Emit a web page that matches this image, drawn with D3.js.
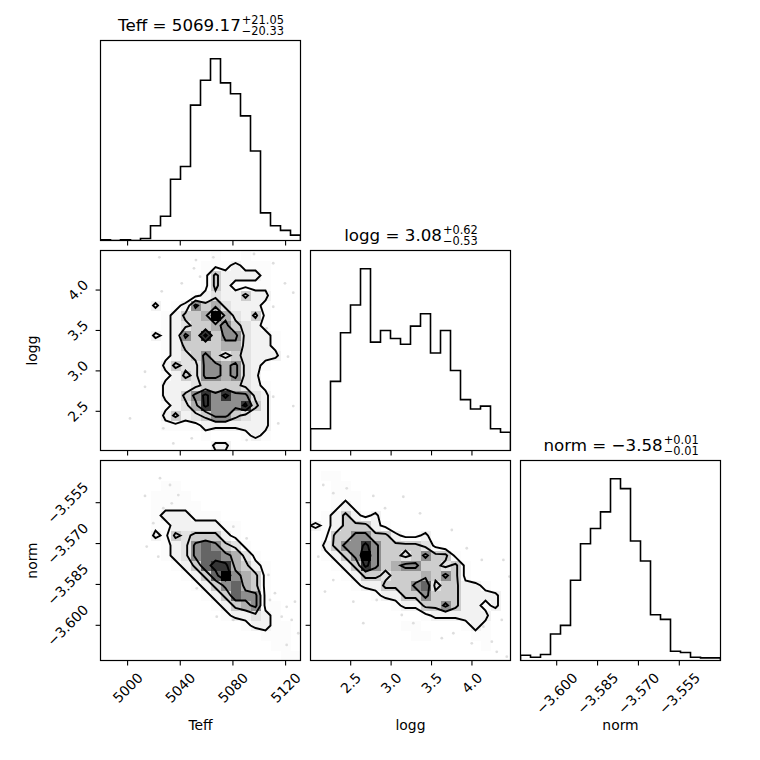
<!DOCTYPE html>
<html>
<head>
<meta charset="utf-8">
<script src="https://cdn.jsdelivr.net/npm/d3@7"></script>
<style>
  body { margin: 0; background: white; }
  text { font-family: "DejaVu Sans", sans-serif; fill: black; }
</style>
</head>
<body>
<div id="vis"></div>
<script>
const labels = ["Teff", "logg", "norm"];
const ranges = [[4979.8, 5131.7], [2.009, 4.483], [-3.6131, -3.5397]];
const tickValues = [[5000, 5040, 5080, 5120], [2.5, 3.0, 3.5, 4.0], [-3.600, -3.585, -3.570, -3.555]];
const tickFormats = [d3.format("d"), d3.format(".1f"), d3.format(".3f")];
const titleMain = ["Teff = 5069.17", "logg = 3.08", "norm = \u22123.58"];
const titleUp = ["+21.05", "+0.62", "+0.01"];
const titleDown = ["\u221220.33", "\u22120.53", "\u22120.01"];

// 1d histograms, 20 bins each
const teffCounts = [1, 0, 1, 0, 3, 22, 36, 91, 110, 201, 238, 270, 234, 218, 185, 133, 41, 22, 15, 8];
const loggCounts = [30, 30, 95, 162, 200, 250, 149, 165, 154, 146, 171, 188, 134, 165, 110, 70, 57, 61, 30, 25];
const normCounts = [8, 5, 9, 40, 53, 121, 176, 199, 224, 274, 259, 180, 150, 69, 62, 14, 12, 5, 4, 4];

// 2d histograms, 20x20, top row first (relative density 0-9)
const teffLoggGrid = [
  "00000000000100100000",
  "00000000001112111000",
  "00000000001422221000",
  "00000000001421111000",
  "00000000012322422000",
  "00000201264532221000",
  "00000012445953241000",
  "00000012344564321000",
  "00000212648466322100",
  "00000012444455322100",
  "00000012346434322200",
  "00000024336656321000",
  "00000012436656320000",
  "00000022234444321000",
  "00000022468686632000",
  "00000012358666842000",
  "00000024234664322000",
  "00000011112222222000",
  "00000000001000121000",
  "00000000000220000000"
];
const teffNormGrid = [
  "00000000000000000000",
  "00000000000000000000",
  "00000011000000000000",
  "00000111100000000000",
  "00000111110000000000",
  "00000122211100000000",
  "00000112222211000000",
  "00000214344421000000",
  "00000012367643100000",
  "00000012367765310000",
  "00000001247885421000",
  "00000000124796541000",
  "00000000012467541000",
  "00000000001247661000",
  "00000000000124561100",
  "00000000000012232100",
  "00000000000000122110",
  "00000000000000001110",
  "00000000000000000110",
  "00000000000000000011"
];
const loggNormGrid = [
  "00000000000000000000",
  "01100000000000000000",
  "00110000000000000000",
  "00111000000000000000",
  "00121000000000000000",
  "01242120000000000000",
  "21244421000000000000",
  "01446644211200000000",
  "02466864444310000000",
  "01246964434644100000",
  "00124864566443410000",
  "00012443444546410000",
  "00001224446734422100",
  "00000012244644422220",
  "00000000122446422120",
  "00000000000122222200",
  "00000000011000012100",
  "00000000001100001100",
  "00000000000000000100",
  "00000000000000000000"
];
const contourLevels = [1.5, 3.5, 5.5, 7.5];

// stray samples outside the contours
const teffLoggPoints = [
  [5024.5, 4.399], [5052.3, 4.365], [5065.5, 4.399], [5096.4, 4.440], [5111.0, 4.325],
  [5119.9, 4.077], [5126.2, 3.961], [5111.0, 3.787], [5106.0, 3.520], [5122.2, 3.169],
  [5013.6, 2.983], [5013.6, 2.797], [5111.0, 2.674], [5126.2, 2.558], [5114.8, 2.344],
  [5027.5, 2.283], [5035.1, 2.097], [5049.1, 2.159], [5090.8, 2.138], [5002.2, 2.406],
  [5026.3, 3.978], [5041.5, 4.077], [5050.8, 4.263], [5055.4, 4.159]
];
const teffNormPoints = [
  [5025.0, -3.5462], [5032.6, -3.5487], [5038.9, -3.5524], [5013.6, -3.5527], [5033.9, -3.5554],
  [5027.5, -3.5572], [5019.9, -3.5627], [5014.9, -3.5713], [5023.7, -3.5750], [5080.7, -3.5640],
  [5090.8, -3.5683], [5107.3, -3.5817], [5112.3, -3.5884], [5108.5, -3.5909], [5121.2, -3.5934],
  [5117.4, -3.5970], [5125.0, -3.5982], [5130.0, -3.6031], [5121.2, -3.6074], [5068.1, -3.5970],
  [5080.7, -3.5982], [5052.9, -3.5866], [5127.5, -3.5915]
];
const loggNormPoints = [
  [2.167, -3.5487], [2.291, -3.5517], [2.457, -3.5499], [2.786, -3.5527], [3.157, -3.5530],
  [2.931, -3.5572], [3.364, -3.5591], [3.757, -3.5652], [3.942, -3.5719], [4.128, -3.5762],
  [4.395, -3.5762], [4.470, -3.5823], [2.106, -3.5750], [2.188, -3.5878], [2.291, -3.5836],
  [2.539, -3.5915], [2.662, -3.5994], [2.828, -3.5909], [3.138, -3.5964], [3.281, -3.5994],
  [3.633, -3.6049], [3.776, -3.6031], [4.004, -3.6068], [4.252, -3.6062], [4.313, -3.6099],
  [4.437, -3.6117], [4.375, -3.5982], [4.148, -3.6007]
];

const size = 200, gap = 10, originX = 100.5, originY = 40.5;
const fs = 13.9, tickLen = 4.9, tickPad = 4.9;

const svg = d3.select("#vis").append("svg")
    .attr("width", 760)
    .attr("height", 760);

function panelX(c){ return originX + c * (size + gap); }
function panelY(r){ return originY + r * (size + gap); }

const xScales = ranges.map((r, k) => d3.scaleLinear().domain(r).range([panelX(k), panelX(k) + size]));
function yScale(k, row){
  return d3.scaleLinear().domain(ranges[k]).range([panelY(row) + size, panelY(row)]);
}

function clipFor(r, c){
  const id = "clip" + r + c;
  svg.append("clipPath").attr("id", id)
    .append("rect")
      .attr("x", panelX(c)).attr("y", panelY(r))
      .attr("width", size).attr("height", size);
  return "url(#" + id + ")";
}

function drawHist(k, counts){
  const x = xScales[k];
  const y = d3.scaleLinear().domain([0, 1.1 * d3.max(counts)]).range([panelY(k) + size, panelY(k)]);
  const bin = d3.scaleLinear().domain([0, counts.length]).range(x.range());
  const pts = [[0, 0]];
  counts.forEach((v, i) => pts.push([i, v]));
  pts.push([counts.length, counts[counts.length - 1]]);
  pts.push([counts.length, 0]);
  svg.append("path")
    .attr("clip-path", clipFor(k, k))
    .attr("d", d3.line().curve(d3.curveStepAfter).x(d => bin(d[0])).y(d => y(d[1]))(pts))
    .attr("fill", "none")
    .attr("stroke", "black")
    .attr("stroke-width", 1.6);
}

function drawDensity(r, c, grid, points){
  const n = grid[0].length, m = grid.length;
  const values = grid.flatMap(row => row.split("").map(Number));
  const vmax = d3.max(values);
  const x = xScales[c], y = yScale(r, r);
  const gx = d3.scaleLinear().domain([0, n]).range(x.range());
  const gy = d3.scaleLinear().domain([0, m]).range([y.range()[1], y.range()[0]]);
  const g = svg.append("g").attr("clip-path", clipFor(r, c));

  g.selectAll("circle")
    .data(points)
    .enter().append("circle")
      .attr("cx", d => x(d[0]))
      .attr("cy", d => y(d[1]))
      .attr("r", 1.4)
      .attr("fill", "black")
      .attr("fill-opacity", 0.13);

  // black-to-clear colour ramp, as corner does it
  g.selectAll("rect")
    .data(values.map((v, k) => ({v: v, i: k % n, j: Math.floor(k / n)})).filter(d => d.v > 0))
    .enter().append("rect")
      .attr("x", d => gx(d.i))
      .attr("y", d => gy(d.j))
      .attr("width", gx(1) - gx(0))
      .attr("height", gy(1) - gy(0))
      .attr("shape-rendering", "crispEdges")
      .attr("fill", function(d){
        const l = Math.round(255 * (1 - d.v / vmax));
        return d3.rgb(l, l, l);
      })
      .attr("fill-opacity", d => d.v / vmax);

  const proj = d3.geoTransform({point: function(px, py){ this.stream.point(gx(px), gy(py)); }});
  g.selectAll("path")
    .data(d3.contours().size([n, m]).thresholds(contourLevels)(values))
    .enter().append("path")
      .attr("d", d3.geoPath(proj))
      .attr("fill", "none")
      .attr("stroke", "black")
      .attr("stroke-width", 1.9)
      .attr("stroke-linejoin", "miter");
}

function styleAxis(g){
  g.attr("font-family", "DejaVu Sans").attr("font-size", fs);
  g.select(".domain").remove();
  g.selectAll(".tick line").attr("stroke-width", 1.1);
}

function xAxis(r, c, showLabels){
  const g = svg.append("g")
    .attr("transform", "translate(0," + (panelY(r) + size) + ")")
    .call(d3.axisBottom(xScales[c]).tickValues(tickValues[c]).tickFormat(tickFormats[c])
      .tickSizeInner(tickLen).tickSizeOuter(0).tickPadding(tickPad));
  styleAxis(g);
  g.selectAll(".tick text").each(function(){
    if(!showLabels){ d3.select(this).remove(); return; }
    const w = this.getComputedTextLength();
    const s = (w + fs) * Math.SQRT1_2;
    d3.select(this)
      .attr("x", 0).attr("y", 0).attr("dy", null)
      .attr("text-anchor", "middle")
      .attr("dominant-baseline", "central")
      .attr("transform", "translate(0," + (tickLen + tickPad + s / 2) + ")rotate(-45)");
  });
}

function yAxis(r, c, showLabels){
  const g = svg.append("g")
    .attr("transform", "translate(" + panelX(c) + ",0)")
    .call(d3.axisLeft(yScale(r, r)).tickValues(tickValues[r]).tickFormat(tickFormats[r])
      .tickSizeInner(tickLen).tickSizeOuter(0).tickPadding(tickPad));
  styleAxis(g);
  g.selectAll(".tick text").each(function(){
    if(!showLabels){ d3.select(this).remove(); return; }
    const w = this.getComputedTextLength();
    const s = (w + fs) * Math.SQRT1_2;
    d3.select(this)
      .attr("x", 0).attr("y", 0).attr("dy", null)
      .attr("text-anchor", "middle")
      .attr("dominant-baseline", "central")
      .attr("transform", "translate(" + (-(tickLen + tickPad + s / 2)) + ",0)rotate(-45)");
  });
}

function drawTitle(k){
  const base = panelY(k) - 9.5;
  const t = svg.append("g");
  const main = t.append("text").attr("y", base).attr("font-size", 16.7).text(titleMain[k]);
  const up = t.append("text").attr("y", base - 6.9).attr("font-size", 11.4).text(titleUp[k]);
  const down = t.append("text").attr("y", base + 4.4).attr("font-size", 11.4).text(titleDown[k]);
  const wm = main.node().getComputedTextLength();
  const ws = Math.max(up.node().getComputedTextLength(), down.node().getComputedTextLength());
  const x0 = panelX(k) + size / 2 - (wm + ws) / 2;
  main.attr("x", x0);
  up.attr("x", x0 + wm + 1);
  down.attr("x", x0 + wm + 1);
}

function frame(r, c){
  svg.append("rect")
    .attr("x", panelX(c)).attr("y", panelY(r))
    .attr("width", size).attr("height", size)
    .attr("fill", "none")
    .attr("stroke", "black")
    .attr("stroke-width", 1.2);
}

drawHist(0, teffCounts);
drawHist(1, loggCounts);
drawHist(2, normCounts);
drawDensity(1, 0, teffLoggGrid, teffLoggPoints);
drawDensity(2, 0, teffNormGrid, teffNormPoints);
drawDensity(2, 1, loggNormGrid, loggNormPoints);

xAxis(0, 0, false);
xAxis(1, 0, false);
xAxis(1, 1, false);
xAxis(2, 0, true);
xAxis(2, 1, true);
xAxis(2, 2, true);
yAxis(1, 0, true);
yAxis(2, 0, true);
yAxis(2, 1, false);

[[0, 0], [1, 0], [1, 1], [2, 0], [2, 1], [2, 2]].forEach(p => frame(p[0], p[1]));
[0, 1, 2].forEach(drawTitle);

labels.forEach(function(lab, k){
  svg.append("text")
    .attr("x", panelX(k) + size / 2)
    .attr("y", 730)
    .attr("text-anchor", "middle")
    .attr("font-size", fs)
    .text(lab);
});
[1, 2].forEach(function(r){
  svg.append("text")
    .attr("transform", "translate(37," + (panelY(r) + size / 2) + ")rotate(-90)")
    .attr("text-anchor", "middle")
    .attr("font-size", fs)
    .text(labels[r]);
});
</script>
</body>
</html>
